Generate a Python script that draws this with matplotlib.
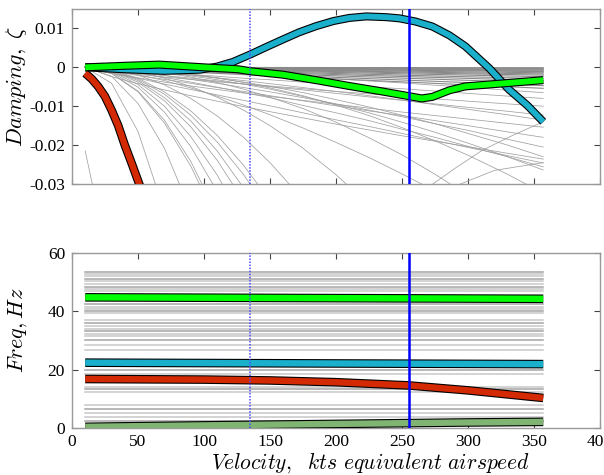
import matplotlib
matplotlib.use("Agg")
import matplotlib.pyplot as plt
import matplotlib.patheffects as pe
import numpy as np

plt.rcParams['mathtext.fontset'] = 'cm'
plt.rcParams['font.family'] = ['Liberation Serif', 'DejaVu Serif']
plt.rcParams['axes.unicode_minus'] = False

# ---------------- data ----------------
vel_grid = [10, 30, 50, 70, 90, 110, 130, 150, 175, 200, 225, 250, 275, 300, 330, 357]

# damping (x1e-3) of background modes on vel_grid (lists may be truncated once far below axis)
fan_damp = [
    [0, -4.1, -16.5, -37.0],
    [0, -2.3, -9.3, -20.8, -37.0],
    [0, -1.6, -6.3, -14.3, -25.4, -39.6],
    [0, -1.5, -6.1, -13.6, -24.2, -37.9],
    [0, -1.3, -5.1, -11.5, -20.4, -31.9, -45.9],
    [0, -1.1, -4.4, -10.0, -17.8, -27.7, -40.0],
    [0, -1.0, -3.8, -8.6, -15.3, -23.9, -34.4],
    [0, -0.9, -3.4, -7.8, -13.8, -21.5, -31.0, -42.0],
    [0, -0.8, -3.1, -6.9, -12.3, -19.2, -27.6, -37.6],
    [0, -0.7, -2.8, -6.3, -11.2, -17.5, -25.2, -34.3],
    [0, -0.5, -2.0, -4.5, -8.0, -12.5, -18.0, -24.5, -34.0],
    [0, -0.3, -1.2, -2.8, -4.9, -7.7, -11.0, -15.0, -20.8, -27.6, -35.4],
    [0, -0.7, -1.9, -3.4, -5.3, -7.4, -9.7, -12.2, -15.6, -19.3, -23.2, -27.4, -31.8],
    [0, -0.2, -0.6, -1.4, -2.5, -3.9, -5.6, -7.7, -10.6, -14.1, -18.1, -22.5, -27.5, -32.9],
    [0, -0.1, -0.4, -1.0, -1.7, -2.7, -3.9, -5.3, -7.3, -9.7, -12.4, -15.5, -18.9, -22.6, -27.5, -32.4],
]
mid_damp = [
    [0, -0.2, -0.7, -1.3, -2.2, -3.2, -4.3, -5.6, -7.5, -9.5, -11.7, -14.1, -16.7, -19.5, -23.0, -26.4],
    [0, -0.6, -1.5, -2.6, -3.8, -5.1, -6.5, -7.8, -9.8, -11.7, -13.7, -15.9, -18.0, -20.3, -23.0, -25.6],
    [0, -1.4, -2.8, -4.3, -5.7, -7.1, -8.5, -9.9, -11.7, -13.5, -15.2, -17.0, -18.8, -20.6, -22.7, -24.6],
    [0, -2.4, -4.2, -5.8, -7.3, -8.7, -10.1, -11.4, -13.0, -14.6, -16.1, -17.6, -19.0, -20.4, -22.1, -23.6],
    [0, -0.2, -0.6, -1.2, -1.9, -2.8, -3.8, -4.9, -6.5, -8.3, -10.2, -12.3, -14.5, -17.0, -20.0, -23.0],
    [0, -0.5, -1.2, -2.1, -3.1, -4.1, -5.2, -6.3, -7.8, -9.4, -11.0, -12.7, -14.5, -16.2, -18.5, -20.5],
    [0, -1.0, -2.1, -3.1, -4.1, -5.2, -6.2, -7.3, -8.6, -9.9, -11.2, -12.4, -13.7, -15.0, -16.6, -18.0],
    [0, -1.6, -2.7, -3.8, -4.8, -5.7, -6.6, -7.5, -8.5, -9.5, -10.5, -11.5, -12.4, -13.3, -14.4, -15.4],
    [0, -0.3, -0.8, -1.4, -2.0, -2.7, -3.4, -4.2, -5.2, -6.2, -7.3, -8.4, -9.6, -10.8, -12.2, -13.6],
    [0, -0.7, -1.4, -2.1, -2.8, -3.5, -4.3, -5.0, -5.8, -6.7, -7.6, -8.5, -9.4, -10.3, -11.3, -12.3],
    [0, -1.0, -1.8, -2.5, -3.1, -3.7, -4.3, -4.8, -5.5, -6.2, -6.8, -7.5, -8.1, -8.7, -9.4, -10.0],
    [0, -0.5, -0.9, -1.4, -1.8, -2.3, -2.8, -3.2, -3.8, -4.4, -5.0, -5.5, -6.1, -6.7, -7.4, -8.0],
    [0, -0.2, -0.4, -0.7, -1.0, -1.3, -1.6, -2.0, -2.5, -3.0, -3.5, -4.0, -4.6, -5.1, -5.9, -6.5],
]
bundle_vel = [10, 357]
bundle_end = [-0.1, -0.3, -0.5, -0.7, -0.9, -1.1, -1.4, -1.7, -2.0, -2.4, -2.9, -3.4, -4.0, -4.7, -5.4]

rise1_vel = [265, 290, 311, 335, 357]
rise1_damp = [-32.0, -26.0, -21.3, -17.3, -14.0]
rise2_vel = [287, 320, 357]
rise2_damp = [-31.0, -26.5, -24.5]
low_vel = [10, 16]
low_damp = [-21.5, -31.0]

red_vel = [10, 15, 20, 25, 30, 35, 40, 45, 52]
red_damp = [-1.5, -3.0, -5.0, -7.5, -11.0, -15.0, -20.0, -24.5, -31.0]
blue_vel = [10, 40, 70, 97, 110, 122, 135, 147, 160, 172, 185, 198, 210, 223, 238,
            248, 260, 273, 286, 298, 316, 331, 345, 357]
blue_damp = [0, -0.5, -0.9, -0.6, 0.2, 1.4, 3.3, 5.2, 7.2, 9.0, 10.6, 11.9, 12.7, 13.1, 12.9,
             12.6, 11.8, 10.5, 8.2, 5.4, -0.2, -5.7, -9.8, -14.0]
green_vel = [10, 40, 66, 100, 126, 135, 160, 185, 210, 235, 255, 265, 273, 286, 298, 324, 357]
green_damp = [0, 0.4, 0.7, 0, -0.5, -1.0, -1.9, -3.3, -4.8, -6.2, -7.4, -8.0, -7.6, -5.9, -4.9, -4.2, -3.3]

# frequencies (Hz)
freq_vel = [10, 357]
gray_freq = [53.6, 52.8, 52.0, 51.0, 50.3, 49.5, 48.5, 47.8, 47.0, 42.4, 41.6, 40.7, 40.0,
             39.3, 37.0, 35.9, 34.9, 34.0, 33.2, 32.1, 31.5, 30.3, 28.3, 26.9, 20.0, 18.6,
             14.2, 13.4, 12.2, 7.9, 6.6, 5.1, 3.9, 2.4]
green_freq = [44.8, 44.3]
blue_freq = [22.4, 21.9]
red_fvel = [10, 100, 150, 200, 255, 300, 357]
red_freq = [16.8, 16.6, 16.3, 15.7, 14.6, 12.9, 10.3]
olive_fvel = [10, 100, 200, 300, 357]
olive_freq = [0.4, 0.9, 1.4, 1.9, 2.1]

v_flutter = 255
v_dotted = 135

xticks = [0, 50, 100, 150, 200, 250, 300, 350, 400]
dticks = [-0.03, -0.02, -0.01, 0, 0.01]
dlabels = ['-0.03', '-0.02', '-0.01', '0', '0.01']
fticks = [0, 20, 40, 60]

# ---------------- plot ----------------
fig = plt.figure(figsize=(6.04, 4.75), dpi=100)
ax1 = fig.add_axes([72/604, 1-184/475, 528/604, 175/475])
ax2 = fig.add_axes([72/604, 1-428/475, 528/604, 175/475])

RED = '#d42a04'
BLUE = '#1ab0cc'
LIME = '#00ff00'
OLIVE = '#7fb472'

def thick(ax, x, y, color, lw):
    ax.plot(x, y, color=color, lw=lw, solid_capstyle='butt', zorder=5,
            path_effects=[pe.Stroke(linewidth=lw + 1.6, foreground='black'), pe.Normal()])

# top: damping
for d in fan_damp:
    ax1.plot(vel_grid[:len(d)], np.array(d) * 1e-3, color='#a0a0a0', lw=0.55, zorder=2)
for d in mid_damp:
    ax1.plot(vel_grid[:len(d)], np.array(d) * 1e-3, color='#a0a0a0', lw=0.55, zorder=2)
for e in bundle_end:
    ax1.plot(bundle_vel, [0, e * 1e-3], color='#8a8a8a', lw=0.8, zorder=2)
ax1.plot(rise1_vel, np.array(rise1_damp) * 1e-3, color='#a0a0a0', lw=0.55, zorder=2)
ax1.plot(rise2_vel, np.array(rise2_damp) * 1e-3, color='#a0a0a0', lw=0.55, zorder=2)
ax1.plot(low_vel, np.array(low_damp) * 1e-3, color='#a0a0a0', lw=0.55, zorder=2)

thick(ax1, red_vel, np.array(red_damp) * 1e-3, RED, 4.6)
thick(ax1, blue_vel, np.array(blue_damp) * 1e-3, BLUE, 4.2)
thick(ax1, green_vel, np.array(green_damp) * 1e-3, LIME, 4.2)

# bottom: frequency
for i, f in enumerate(gray_freq):
    c = '#a4a4a4' if i % 3 == 0 else '#c8c8c8'
    ax2.plot(freq_vel, [f, f], color=c, lw=1.1, zorder=2)
thick(ax2, freq_vel, green_freq, LIME, 4.6)
thick(ax2, freq_vel, blue_freq, BLUE, 4.6)
thick(ax2, red_fvel, red_freq, RED, 4.6)
thick(ax2, olive_fvel, olive_freq, OLIVE, 4.6)

for ax in (ax1, ax2):
    ax.axvline(v_flutter, color='#0000ff', lw=1.8, zorder=8)
    ax.axvline(v_dotted, color='#4a4aff', lw=1.1, ls=(0, (1, 1)), zorder=8)
    ax.set_xlim(0, 400)
    ax.set_xticks(xticks)
    ax.tick_params(direction='in', length=4, width=0.8, color='#444444',
                   top=True, right=True, labelsize=12.5, pad=5)
    for s in ax.spines.values():
        s.set_color('#999999')
        s.set_linewidth(1.0)

ax1.set_ylim(-0.03, 0.015)
ax1.set_yticks(dticks)
ax1.set_yticklabels(dlabels)
ax1.set_xticklabels([])
ax1.set_ylabel(r'$Damping,\ \zeta$', fontsize=16)
ax1.yaxis.set_label_coords(-0.082, 0.56)

ax2.set_ylim(0, 60)
ax2.set_yticks(fticks)
ax2.set_xticklabels([str(t) for t in xticks])
ax2.tick_params(axis='x', pad=4)
ax2.set_ylabel(r'$Freq, Hz$', fontsize=16)
ax2.yaxis.set_label_coords(-0.082, 0.56)
ax2.set_xlabel(r'$Velocity,\ \ kts\ equivalent\ airspeed$', fontsize=15.5)
ax2.xaxis.set_label_coords(0.566, -0.128)

fig.savefig('out.png', dpi=100)
